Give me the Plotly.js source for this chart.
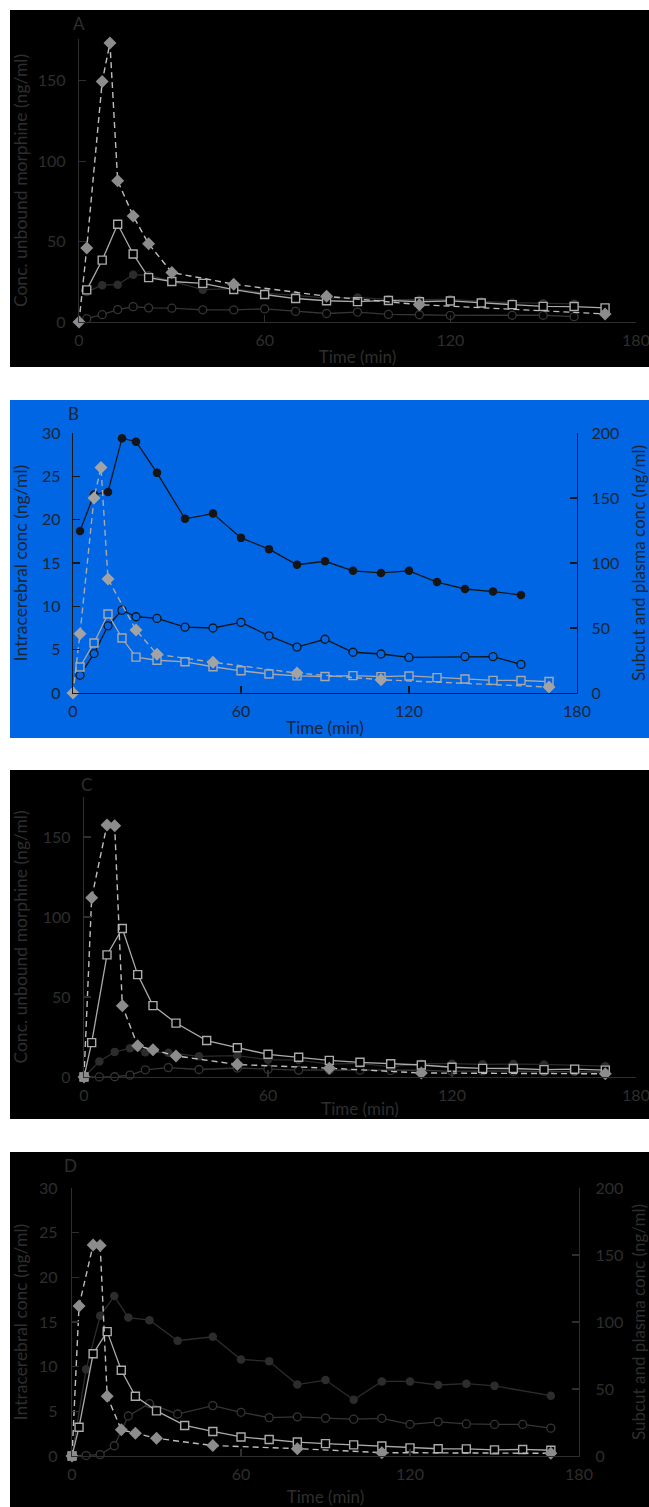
<!DOCTYPE html>
<html>
<head>
<meta charset="utf-8">
<script src="https://cdn.plot.ly/plotly-3.0.1.min.js"></script>
<style>
  html, body { margin:0; padding:0; background:#ffffff; overflow:hidden; }
  body { width:649px; height:1507px; position:relative; }
  .panel { position:absolute; left:10px; }
</style>
</head>
<body>
<div id="panelA" class="panel" style="top:10px;width:680px;height:357px"></div>
<div id="panelB" class="panel" style="top:400px;width:639px;height:338px"></div>
<div id="panelC" class="panel" style="top:770px;width:680px;height:349px"></div>
<div id="panelD" class="panel" style="top:1152px;width:639px;height:355px"></div>
<script>
// ---------- shared tick labels ----------
const timeTicks = [0, 60, 120, 180];
const unboundTicks = [0, 50, 100, 150];
const brainTicks = [0, 5, 10, 15, 20, 25, 30];
const plasmaTicks = [0, 50, 100, 150, 200];

// ---------- Experiment 1 (panels A and B) ----------
const t1Filled = [2.5, 7.5, 12.5, 17.5, 22.5, 30, 40, 50, 60, 70, 80, 90, 100, 110, 120, 130, 140, 150, 160];
const v1Filled = [18.7, 22.9, 23.2, 29.4, 29.0, 25.4, 20.1, 20.7, 17.9, 16.6, 14.8, 15.2, 14.1, 13.85, 14.1, 12.8, 12.0, 11.7, 11.3];
const t1Open = [2.5, 7.5, 12.5, 17.5, 22.5, 30, 40, 50, 60, 70, 80, 90, 100, 110, 120, 140, 150, 160];
const v1Open = [2.05, 4.55, 7.75, 9.56, 8.8, 8.6, 7.6, 7.5, 8.15, 6.6, 5.3, 6.2, 4.7, 4.5, 4.1, 4.2, 4.2, 3.3];
const t1Subcut = [2.5, 7.5, 12.5, 17.5, 22.5, 30, 40, 50, 60, 70, 80, 90, 100, 110, 120, 130, 140, 150, 160, 170];
const v1Subcut = [20.0, 38.5, 60.8, 42.3, 27.6, 25.2, 24.0, 20.2, 17.1, 14.6, 13.2, 12.7, 13.4, 12.6, 13.1, 11.8, 10.8, 9.7, 9.6, 8.8];
const t1PlasmaA = [0, 2.5, 7.5, 10, 12.5, 17.5, 22.5, 30, 50, 80, 110, 170];
const v1PlasmaA = [0, 46.0, 149.6, 173.5, 87.8, 66.0, 48.6, 30.8, 23.5, 16.0, 10.8, 5.0];
const t1PlasmaB = [0, 2.5, 7.5, 10, 12.5, 22.5, 30, 50, 80, 110, 170];
const v1PlasmaB = [0, 45.5, 150.0, 173.5, 87.7, 48.4, 29.8, 23.7, 15.3, 10.2, 4.6];

// ---------- Experiment 2 (panels C and D) ----------
const t2Filled = [0, 5, 10, 15, 20, 27.5, 37.5, 50, 60, 70, 80, 90, 100, 110, 120, 130, 140, 150, 170];
const v2Filled = [0, 9.7, 15.7, 17.9, 15.5, 15.2, 12.9, 13.35, 10.8, 10.6, 8.0, 8.5, 6.3, 8.35, 8.35, 7.95, 8.1, 7.85, 6.75];
const t2Open = [0, 5, 10, 15, 20, 27.5, 37.5, 50, 60, 70, 80, 90, 100, 110, 120, 130, 140, 150, 160, 170];
const v2Open = [0, 0.05, 0.15, 1.15, 4.48, 5.87, 4.7, 5.64, 4.89, 4.3, 4.38, 4.24, 4.12, 4.22, 3.55, 3.83, 3.59, 3.53, 3.53, 3.12];
const t2Subcut = [0, 2.5, 7.5, 12.5, 17.5, 22.5, 30, 40, 50, 60, 70, 80, 90, 100, 110, 120, 130, 140, 150, 160, 170];
const v2Subcut = [0, 21.5, 76.3, 92.8, 64.0, 44.6, 33.7, 22.8, 18.3, 14.2, 12.3, 10.4, 9.2, 8.3, 7.5, 6.1, 5.4, 5.3, 4.6, 4.9, 4.3];
const t2Plasma = [0, 2.5, 7.5, 10, 12.5, 17.5, 22.5, 30, 50, 80, 110, 170];
const v2Plasma = [0, 112, 157.5, 157, 44.5, 19.5, 17.0, 13.2, 7.8, 5.5, 2.5, 2.0];

// ---------- text ----------
const xTitle = 'Time (min)';
const yUnboundTitle = 'Conc. unbound morphine (ng/ml)';
const yBrainTitle = 'Intracerebral conc (ng/ml)';
const yPlasmaTitle = 'Subcut and plasma conc (ng/ml)';

const FONT = 'Lato, "Open Sans", "DejaVu Sans", sans-serif';

function themes(dark) {
  if (dark) {
    return {
      bg: '#000000', text: '#2e2e2e', axis: '#2e2e2e',
      filled: '#2c2c2c', open: '#353535',
      square: '#ababab', diamond: '#8c8c8c', dashLine: '#bdbdbd'
    };
  }
  return {
    bg: '#0066e3', text: '#1b2536', axis: '#1a1a1a',
    filled: '#151515', open: '#151515',
    square: '#a9a9a9', diamond: '#a3a3a3', dashLine: '#a9a9a9'
  };
}

function makeTraces(th, d, dual) {
  const yL = 'y', yR = dual ? 'y2' : 'y';
  return [
    { x: d.tOpen, y: d.vOpen, yaxis: yL, type: 'scatter', mode: 'lines+markers', cliponaxis: false,
      line: { color: th.open, width: 1.3 },
      marker: { symbol: 'circle', size: 8, color: th.bg, line: { color: th.open, width: 1.3 } } },
    { x: d.tFilled, y: d.vFilled, yaxis: yL, type: 'scatter', mode: 'lines+markers', cliponaxis: false,
      line: { color: th.filled, width: 1.3 },
      marker: { symbol: 'circle', size: 8.5, color: th.filled } },
    { x: d.tSub, y: d.vSub, yaxis: yR, type: 'scatter', mode: 'lines+markers', cliponaxis: false,
      line: { color: th.square, width: 1.3 },
      marker: { symbol: 'square', size: 8, color: th.bg, line: { color: th.square, width: 1.4 } } },
    { x: d.tPl, y: d.vPl, yaxis: yR, type: 'scatter', mode: 'lines+markers', cliponaxis: false,
      line: { color: th.dashLine, width: 1.4, dash: '6px,4px' },
      marker: { symbol: 'diamond', size: 10, color: th.diamond } }
  ];
}

function axisBase(th) {
  return {
    showline: true, linecolor: th.axis, linewidth: 1.2,
    ticks: 'inside', ticklen: 7, tickcolor: th.axis, tickwidth: 1.2,
    showgrid: false, zeroline: false, fixedrange: true,
    tickfont: { family: FONT, size: 16, color: th.text }
  };
}

function makeLayout(th, o) {
  const xa = Object.assign(axisBase(th), {
    range: [0, 180], tickvals: timeTicks, ticklabelstandoff: 4,
    title: { text: xTitle, font: { family: FONT, size: 17, color: th.text }, standoff: o.xStand }
  });
  const ya = Object.assign(axisBase(th), {
    range: o.yRange, tickvals: o.yTicks, ticklabelstandoff: o.yLabStand,
    title: { text: o.yTitle, font: { family: FONT, size: 17.5, color: th.text }, standoff: o.yStand }
  });
  const lay = {
    width: o.w, height: o.h,
    margin: o.m,
    paper_bgcolor: th.bg, plot_bgcolor: th.bg,
    showlegend: false,
    font: { family: FONT, color: th.text },
    xaxis: xa, yaxis: ya,
    annotations: [{
      text: o.letter, xref: 'paper', yref: 'paper', x: 0, y: 1,
      xshift: o.letterDx, yshift: o.letterDy, showarrow: false,
      xanchor: 'center', yanchor: 'middle',
      font: { family: FONT, size: 17, color: th.text }
    }]
  };
  if (o.y2) {
    lay.yaxis2 = Object.assign(axisBase(th), {
      overlaying: 'y', side: 'right', anchor: 'x',
      range: [0, 200], tickvals: plasmaTicks, ticklabelstandoff: o.y2LabStand,
      title: { text: yPlasmaTitle, font: { family: FONT, size: 17, color: th.text }, standoff: o.y2Stand }
    });
  }
  return lay;
}

const cfg = { staticPlot: true, displayModeBar: false };
const dark = themes(true), blue = themes(false);

const d1A = { tOpen: t1Open, vOpen: v1Open, tFilled: t1Filled, vFilled: v1Filled, tSub: t1Subcut, vSub: v1Subcut, tPl: t1PlasmaA, vPl: v1PlasmaA };
const d1B = { tOpen: t1Open, vOpen: v1Open, tFilled: t1Filled, vFilled: v1Filled, tSub: t1Subcut, vSub: v1Subcut, tPl: t1PlasmaB, vPl: v1PlasmaB };
const d2 = { tOpen: t2Open, vOpen: v2Open, tFilled: t2Filled, vFilled: v2Filled, tSub: t2Subcut, vSub: v2Subcut, tPl: t2Plasma, vPl: v2Plasma };

Plotly.newPlot('panelA', makeTraces(dark, d1A, false), makeLayout(dark, {
  w: 680, h: 357, m: { l: 69.3, r: 54, t: 29.3, b: 44.7 },
  yRange: [0, 176], yTicks: unboundTicks, yTitle: yUnboundTitle, yLabStand: 9, yStand: 10, xStand: 4,
  letter: 'A', letterDx: 0, letterDy: 16
}), cfg);

Plotly.newPlot('panelB', makeTraces(blue, d1B, true), makeLayout(blue, {
  w: 639, h: 338, m: { l: 62.7, r: 72.3, t: 33.3, b: 45.3 },
  yRange: [0, 30], yTicks: brainTicks, yTitle: yBrainTitle, yLabStand: 8, yStand: 14, xStand: 4,
  y2: true, y2LabStand: 10, y2Stand: 14,
  letter: 'B', letterDx: 0, letterDy: 20
}), cfg);

Plotly.newPlot('panelC', makeTraces(dark, d2, false), makeLayout(dark, {
  w: 680, h: 349, m: { l: 74, r: 54, t: 26.7, b: 42.3 },
  yRange: [0, 175], yTicks: unboundTicks, yTitle: yUnboundTitle, yLabStand: 9, yStand: 10, xStand: 4,
  letter: 'C', letterDx: 2, letterDy: 13
}), cfg);

Plotly.newPlot('panelD', makeTraces(dark, d2, true), makeLayout(dark, {
  w: 639, h: 355, m: { l: 62.3, r: 70.4, t: 36.3, b: 51 },
  yRange: [0, 30], yTicks: brainTicks, yTitle: yBrainTitle, yLabStand: 10, yStand: 14, xStand: 8,
  y2: true, y2LabStand: 12, y2Stand: 14,
  letter: 'D', letterDx: -2, letterDy: 23
}), cfg);
</script>
</body>
</html>
